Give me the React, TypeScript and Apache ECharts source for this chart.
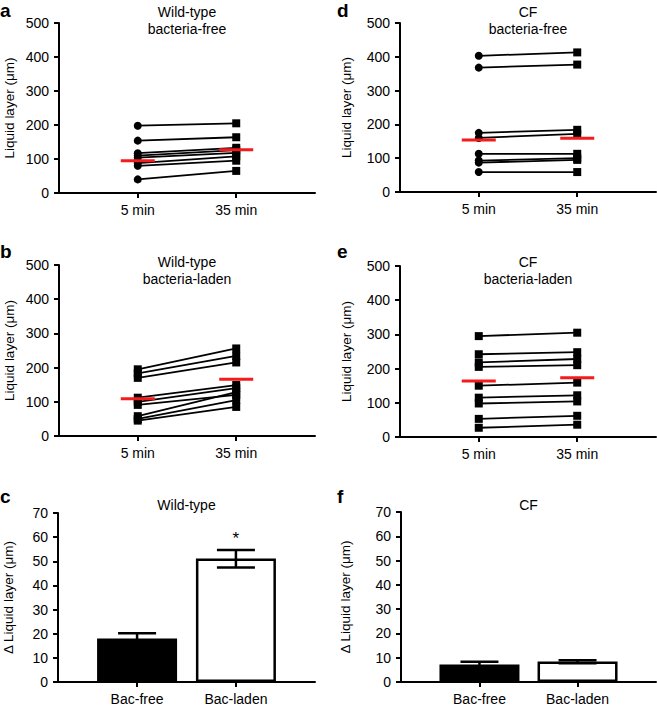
import React, { useEffect, useRef } from 'react';
import * as echarts from 'echarts';

// ---------- data ----------
const timeLabels = ['5 min', '35 min'];
const groupLabels = ['Bac-free', 'Bac-laden'];
const liquidTicks = [0, 100, 200, 300, 400, 500];
const deltaTicks = [0, 10, 20, 30, 40, 50, 60, 70];

const wtFree5 = [198, 154, 117, 110, 104, 88, 80, 40];
const wtFree35 = [205, 164, 133, 126, 118, 108, 95, 65];
const wtFreeMean = [95, 127];

const wtLaden5 = [195, 183, 170, 112, 100, 91, 58, 50, 45];
const wtLaden35 = [256, 234, 215, 149, 140, 120, 128, 105, 85];
const wtLadenMean = [109, 166];

const cfFree5 = [403, 368, 175, 160, 113, 93, 87, 59];
const cfFree35 = [413, 377, 184, 172, 113, 100, 95, 59];
const cfFreeMean = [154, 159];

const cfLaden5 = [295, 242, 218, 205, 150, 115, 98, 53, 27];
const cfLaden35 = [305, 248, 228, 210, 159, 122, 104, 62, 36];
const cfLadenMean = [164, 173];

const wtDelta = [18.0, 51.2];
const wtDeltaLow = [15.8, 47.4];
const wtDeltaHigh = [20.2, 54.7];
const wtSig = ['', '*'];

const cfDelta = [7.2, 8.4];
const cfDeltaLow = [6.1, 7.7];
const cfDeltaHigh = [8.3, 9.0];
const cfSig = ['', ''];

// ---------- layout ----------
const FONT = '"Liberation Sans", Arial, Helvetica, sans-serif';
const RED = '#f31b1b';

type Paired = {
  kind: 'paired';
  grid: { left: number; top: number; width: number; height: number };
  v5: number[]; v35: number[]; mean: number[];
  sym5: string; sym35: string;
  title: string; titleTop: number;
  letter: string; letterX: number; letterY: number;
  nameGap: number;
};
type Bars = {
  kind: 'bars';
  grid: { left: number; top: number; width: number; height: number };
  values: number[]; low: number[]; high: number[]; sig: string[];
  title: string; titleTop: number;
  letter: string; letterX: number; letterY: number;
  nameGap: number;
};

const panels: (Paired | Bars)[] = [
  { kind: 'paired', grid: { left: 59, top: 23, width: 256, height: 170 }, v5: wtFree5, v35: wtFree35, mean: wtFreeMean, sym5: 'circle', sym35: 'rect', title: 'Wild-type\nbacteria-free', titleTop: 3.5, letter: 'a', letterX: 0, letterY: 1, nameGap: 43 },
  { kind: 'paired', grid: { left: 59, top: 265, width: 256, height: 171 }, v5: wtLaden5, v35: wtLaden35, mean: wtLadenMean, sym5: 'rect', sym35: 'rect', title: 'Wild-type\nbacteria-laden', titleTop: 253, letter: 'b', letterX: 0, letterY: 242, nameGap: 43 },
  { kind: 'bars', grid: { left: 58, top: 513, width: 257, height: 170 }, values: wtDelta, low: wtDeltaLow, high: wtDeltaHigh, sig: wtSig, title: 'Wild-type', titleTop: 496, letter: 'c', letterX: 0, letterY: 487, nameGap: 43 },
  { kind: 'paired', grid: { left: 400, top: 23, width: 256, height: 169 }, v5: cfFree5, v35: cfFree35, mean: cfFreeMean, sym5: 'circle', sym35: 'rect', title: 'CF\nbacteria-free', titleTop: 3.5, letter: 'd', letterX: 337, letterY: 1, nameGap: 47 },
  { kind: 'paired', grid: { left: 400, top: 266, width: 256, height: 171 }, v5: cfLaden5, v35: cfLaden35, mean: cfLadenMean, sym5: 'rect', sym35: 'rect', title: 'CF\nbacteria-laden', titleTop: 253, letter: 'e', letterX: 337, letterY: 242, nameGap: 47 },
  { kind: 'bars', grid: { left: 401, top: 512, width: 255, height: 170 }, values: cfDelta, low: cfDeltaLow, high: cfDeltaHigh, sig: cfSig, title: 'CF', titleTop: 496, letter: 'f', letterX: 337, letterY: 487, nameGap: 49 },
];

function buildOption() {
  const grid: any[] = [];
  const xAxis: any[] = [];
  const yAxis: any[] = [];
  const series: any[] = [];
  const graphic: any[] = [];

  const axisLine = { show: true, onZero: false, lineStyle: { color: '#000', width: 2 } };
  const tickStyle = { color: '#000', width: 2 };

  panels.forEach((p, i) => {
    grid.push({ ...p.grid, containLabel: false });
    const labels = p.kind === 'paired' ? timeLabels : groupLabels;
    xAxis.push({
      type: 'value', gridIndex: i, min: -0.8, max: 1.8,
      axisLine,
      axisTick: { show: true, customValues: [0, 1], length: 5, lineStyle: tickStyle },
      axisLabel: { show: true, customValues: [0, 1], formatter: (v: number) => labels[Math.round(v)] ?? '', color: '#000', fontSize: 14, fontFamily: FONT, margin: 10 },
      splitLine: { show: false },
    });
    const ticks = p.kind === 'paired' ? liquidTicks : deltaTicks;
    yAxis.push({
      type: 'value', gridIndex: i,
      min: ticks[0], max: ticks[ticks.length - 1], interval: ticks[1] - ticks[0],
      axisLine,
      axisTick: { show: true, length: 5, lineStyle: tickStyle },
      axisLabel: { color: '#000', fontSize: 14, fontFamily: FONT, margin: 10 },
      splitLine: { show: false },
      name: p.kind === 'paired' ? 'Liquid layer (μm)' : 'Δ Liquid layer (μm)',
      nameLocation: 'middle', nameGap: p.nameGap,
      nameTextStyle: { color: '#000', fontSize: 13.5, fontFamily: FONT },
    });

    if (p.kind === 'paired') {
      p.v5.forEach((v, k) => {
        series.push({
          type: 'line', xAxisIndex: i, yAxisIndex: i, silent: true, z: 2,
          data: [
            { value: [0, v], symbol: p.sym5 },
            { value: [1, p.v35[k]], symbol: p.sym35 },
          ],
          symbolSize: 8,
          lineStyle: { color: '#000', width: 1.8 },
          itemStyle: { color: '#000' },
        });
      });
      series.push({
        type: 'custom', xAxisIndex: i, yAxisIndex: i, silent: true, z: 5,
        data: p.mean.map((m, j) => [j, m]),
        renderItem: (_params: any, api: any) => {
          const pt = api.coord([api.value(0), api.value(1)]);
          return {
            type: 'line',
            shape: { x1: pt[0] - 17, y1: pt[1], x2: pt[0] + 17, y2: pt[1] },
            style: { stroke: RED, lineWidth: 3 },
          };
        },
      });
    } else {
      series.push({
        type: 'bar', xAxisIndex: i, yAxisIndex: i, silent: true, z: 2, barWidth: 80,
        data: p.values.map((v, j) => ({
          value: [j, v],
          itemStyle: j === 0 ? { color: '#000' } : { color: '#fff', borderColor: '#000', borderWidth: 2.5 },
        })),
      });
      const sig = p.sig;
      series.push({
        type: 'custom', xAxisIndex: i, yAxisIndex: i, silent: true, z: 6,
        data: p.values.map((_v, j) => [j, p.low[j], p.high[j]]),
        renderItem: (params: any, api: any) => {
          const x = api.value(0);
          const lo = api.coord([x, api.value(1)]);
          const hi = api.coord([x, api.value(2)]);
          const style = { stroke: '#000', lineWidth: 2.5 };
          const children: any[] = [
            { type: 'line', shape: { x1: lo[0], y1: lo[1], x2: hi[0], y2: hi[1] }, style },
            { type: 'line', shape: { x1: hi[0] - 19, y1: hi[1], x2: hi[0] + 19, y2: hi[1] }, style },
            { type: 'line', shape: { x1: lo[0] - 19, y1: lo[1], x2: lo[0] + 19, y2: lo[1] }, style },
          ];
          const s = sig[params.dataIndex];
          if (s) {
            children.push({
              type: 'text', x: hi[0], y: hi[1] - 11,
              style: { text: s, fill: '#000', font: `17px ${FONT}`, textAlign: 'center', textVerticalAlign: 'middle' },
            });
          }
          return { type: 'group', children };
        },
      });
    }

    graphic.push({
      type: 'text', x: p.grid.left + p.grid.width / 2, y: p.titleTop,
      style: { text: p.title, fill: '#000', font: `14px ${FONT}`, lineHeight: 17, textAlign: 'center', textVerticalAlign: 'top' },
    });
    graphic.push({
      type: 'text', x: p.letterX, y: p.letterY,
      style: { text: p.letter, fill: '#000', font: `bold 19px ${FONT}`, textAlign: 'left', textVerticalAlign: 'top' },
    });
  });

  return { animation: false, backgroundColor: '#fff', grid, xAxis, yAxis, series, graphic };
}

export default function App() {
  const ref = useRef<HTMLDivElement>(null);
  useEffect(() => {
    if (!ref.current) return;
    const chart = echarts.init(ref.current, undefined, { renderer: 'svg' });
    chart.setOption(buildOption());
    return () => chart.dispose();
  }, []);
  return (
    <div
      ref={ref}
      style={{ position: 'absolute', left: 0, top: 0, width: 657, height: 706, background: '#fff' }}
    />
  );
}
